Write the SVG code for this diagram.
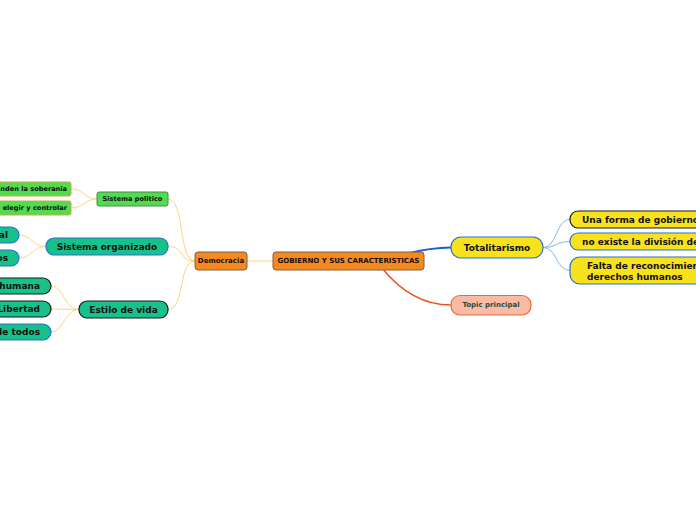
<svg xmlns="http://www.w3.org/2000/svg" width="696" height="520" viewBox="0 0 696 520">
<style>
text{font-family:"DejaVu Sans","Liberation Sans",sans-serif;font-weight:bold;fill:#111;dominant-baseline:central}
.c{text-anchor:middle}
.e{text-anchor:end}
.ora{fill:#f5891f;stroke:#7f5f3f;stroke-width:1}
.grn{fill:#50db50;stroke:#4a8a4a;stroke-width:1}
.grn2{fill:#50db50;stroke:#d9a441;stroke-width:1}
.teal{fill:#17c18a}
.bl{stroke:#2a6fcf;stroke-width:1.2}
.bk{stroke:#1a1a1a;stroke-width:1.2}
.yel{fill:#f8e21c}
.top{fill:#f9bba5;stroke:#f0683a;stroke-width:1.2}
.yc{fill:none;stroke:#fcd57e;stroke-width:1}
.lb{fill:none;stroke:#8ab4e8;stroke-width:1}
</style>
<rect width="696" height="520" fill="#ffffff"/>
<g id="connectors">
<path class="yc" d="M247,261 L273,261"/>
<path class="yc" d="M168,199 C185,199 178,261 195,261"/>
<path class="yc" d="M168,246.5 C185,246.5 178,261 195,261"/>
<path class="yc" d="M168,309.5 C185,309.5 178,261 195,261"/>
<path class="yc" d="M97,199 C84,199 84,189 71,189"/>
<path class="yc" d="M97,199 C84,199 84,208 71,208"/>
<path class="yc" d="M46,246.5 C32,246.5 32,235 19,235"/>
<path class="yc" d="M46,246.5 C32,246.5 32,258 19,258"/>
<path class="yc" d="M79,309.5 C64,309.5 64,286 51,286"/>
<path class="yc" d="M79,309.5 C64,309.5 64,309 51,309"/>
<path class="yc" d="M79,309.5 C64,309.5 64,332 51,332"/>
<path fill="none" stroke="#1b5fcf" stroke-width="1.8" d="M405,254 C425,249 435,247.5 451,247.5"/>
<path fill="none" stroke="#e8542a" stroke-width="1.5" d="M382,268 C398,288 420,305 451,305"/>
<path class="lb" d="M543,247.5 C557,247.5 556,219.5 570,219.5"/>
<path class="lb" d="M543,247.5 C557,247.5 556,241.5 570,241.5"/>
<path class="lb" d="M543,247.5 C557,247.5 556,270.5 570,270.5"/>
</g>
<g id="central"><rect class="ora" x="273" y="252" width="151" height="18" rx="3"/><text class="c" x="348.5" y="261" font-size="7">GOBIERNO Y SUS CARACTERISTICAS</text></g>
<g id="democracia"><rect class="ora" x="195" y="252" width="52" height="18" rx="3"/><text class="c" x="221" y="261" font-size="7">Democracia</text></g>
<g id="sistema-politico"><rect class="grn" x="97" y="192" width="71" height="14" rx="2"/><text class="c" x="132.5" y="199" font-size="6.6">Sistema politico</text></g>
<g id="soberania"><rect class="grn2" x="-20" y="182" width="91" height="14" rx="2"/><text class="e" x="67" y="189" font-size="6.6">nden la soberania</text></g>
<g id="controlar"><rect class="grn2" x="-20" y="201" width="91" height="14" rx="2"/><text class="e" x="67" y="208" font-size="6.6">elegir y controlar</text></g>
<g id="sistema-organizado"><rect class="teal bl" x="46" y="238" width="122" height="17" rx="8"/><text class="c" x="107" y="246.5" font-size="9">Sistema organizado</text></g>
<g id="al"><rect class="teal bl" x="-30" y="227" width="49" height="16" rx="8"/><text class="e" x="8" y="235" font-size="9">al</text></g>
<g id="os"><rect class="teal bl" x="-30" y="250" width="49" height="16" rx="8"/><text class="e" x="8" y="258" font-size="9">os</text></g>
<g id="estilo-de-vida"><rect class="teal bk" x="79" y="301" width="89" height="17" rx="8"/><text class="c" x="123.5" y="309.5" font-size="9">Estilo de vida</text></g>
<g id="humana"><rect class="teal bk" x="-30" y="278" width="81" height="16" rx="8"/><text class="e" x="40" y="286" font-size="9">humana</text></g>
<g id="libertad"><rect class="teal bk" x="-30" y="301" width="81" height="16" rx="8"/><text class="e" x="40" y="309" font-size="9">Libertad</text></g>
<g id="de-todos"><rect class="teal bl" x="-30" y="324" width="81" height="16" rx="8"/><text class="e" x="40" y="332" font-size="9">de todos</text></g>
<g id="totalitarismo"><rect class="yel bl" x="451" y="237" width="92" height="21" rx="10"/><text class="c" x="497" y="247.5" font-size="9">Totalitarismo</text></g>
<g id="una-forma"><rect class="yel bk" x="570" y="211" width="150" height="17" rx="8"/><text x="582" y="219.5" font-size="9">Una forma de gobierno</text></g>
<g id="no-existe"><rect class="yel bl" x="570" y="233" width="150" height="17" rx="8"/><text x="582" y="241.5" font-size="9">no existe la división de</text></g>
<g id="falta"><rect class="yel bl" x="570" y="257" width="150" height="27" rx="10"/><text x="587" y="265.5" font-size="9">Falta de reconocimien</text><text x="587" y="276.5" font-size="9">derechos humanos</text></g>
<g id="topic"><rect class="top" x="451" y="295.5" width="80" height="19.5" rx="9"/><text class="c" x="491" y="305.2" font-size="7" style="fill:#1c4a3a">Topic principal</text></g>
</svg>
